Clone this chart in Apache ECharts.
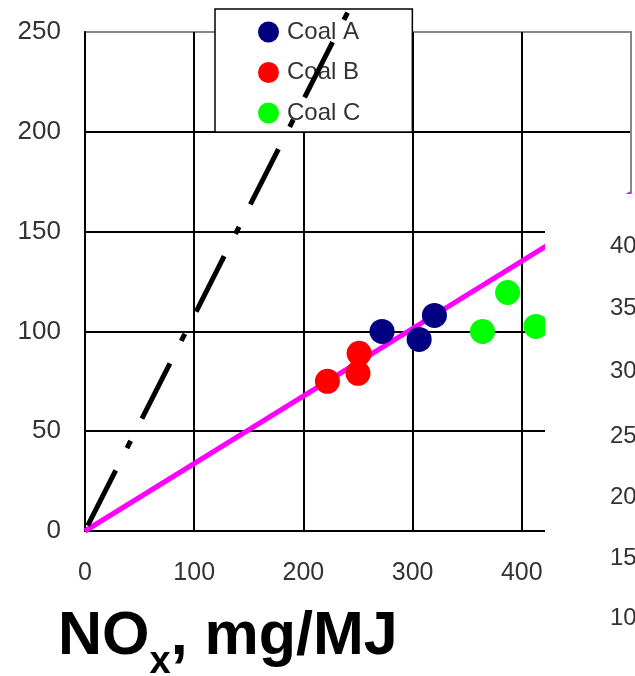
<!DOCTYPE html>
<html>
<head>
<meta charset="utf-8">
<script src="https://cdn.jsdelivr.net/npm/echarts@6/dist/echarts.min.js"></script>
<style>
html,body{margin:0;padding:0;background:#fff;}
#chart{width:635px;height:676px;}
</style>
</head>
<body>
<div id="chart"></div>
<script>
// ---- data ----
const seriesNames = ['Coal A', 'Coal B', 'Coal C'];
const seriesColors = ['#000080', '#ff0000', '#00ff00'];
const coalA = [[272, 100], [306, 96], [320, 108]];
const coalB = [[222, 75], [250, 79], [251, 89]];
const coalC = [[364, 100], [387, 119.5], [413, 102.5]];
const fitLine = [[0, 0], [500, 169]];
const refLine = [[0, 0], [262, 283]];
const xTicks = [0, 100, 200, 300, 400, 500];
const yTicks = [0, 50, 100, 150, 200, 250];
const overlayLabels = ['40', '35', '30', '25', '20', '15', '10'];
const overlayLabelY = [246, 308, 371, 436, 497, 558, 618];

const FONT = '"Liberation Sans", Arial, sans-serif';
const chart = echarts.init(document.getElementById('chart'));

const scatterData = [coalA, coalB, coalC];
const series = seriesNames.map((n, i) => ({
  name: n,
  type: 'scatter',
  data: scatterData[i],
  symbol: 'circle',
  symbolSize: 25,
  itemStyle: { color: seriesColors[i], opacity: 1 },
  z: 3
}));
series.push({
  type: 'line',
  data: fitLine,
  symbol: 'none',
  lineStyle: { color: '#ff00ff', width: 5 },
  z: 2,
  silent: true
});
series.push({
  type: 'line',
  data: refLine,
  symbol: 'none',
  clip: false,
  lineStyle: { color: '#000', width: 5, type: [62, 25, 8, 25], dashOffset: 114, cap: 'butt' },
  z: 6,
  silent: true
});

const graphics = [{
  type: 'rect',
  shape: { x: 545, y: 194, width: 90, height: 482 },
  style: { fill: '#fff' },
  z: 100
}];
overlayLabels.forEach((t, i) => {
  graphics.push({
    type: 'text',
    left: 610,
    top: overlayLabelY[i] - 12,
    z: 101,
    style: { text: t, font: '24px ' + FONT, fill: '#333' }
  });
});

chart.setOption({
  backgroundColor: '#fff',
  animation: false,
  title: {
    left: 53,
    top: 602,
    text: '{a|NO}{s|x}{a|, mg/MJ}',
    textStyle: {
      rich: {
        a: { fontFamily: FONT, fontWeight: 'bold', fontSize: 61, color: '#000', verticalAlign: 'top', lineHeight: 62 },
        s: { fontFamily: FONT, fontWeight: 'bold', fontSize: 38, color: '#000', verticalAlign: 'top', padding: [37, 0, 0, 0], lineHeight: 40 }
      }
    }
  },
  legend: {
    data: seriesNames,
    orient: 'vertical',
    left: 215,
    top: 9,
    padding: [11, 52, 7, 43],
    itemGap: 16.5,
    itemWidth: 21,
    itemHeight: 21,
    icon: 'circle',
    backgroundColor: '#fff',
    borderColor: '#000',
    borderWidth: 1.5,
    z: 4,
    textStyle: { fontFamily: FONT, fontSize: 24, color: '#333', padding: [0, 0, 0, 3] }
  },
  grid: {
    left: 85, right: 4, top: 32, bottom: 145,
    containLabel: false,
    outerBoundsMode: 'none',
    show: true, borderColor: '#888', borderWidth: 2, backgroundColor: 'transparent'
  },
  xAxis: {
    type: 'value',
    min: xTicks[0], max: xTicks[xTicks.length - 1], interval: 100,
    axisLine: { show: true, lineStyle: { color: '#000', width: 2 } },
    axisTick: { show: false },
    splitLine: { show: true, lineStyle: { color: ['#000', '#000', '#000', '#000', '#000', '#888'], width: 2 } },
    axisLabel: { margin: 30, fontFamily: FONT, fontSize: 25, color: '#333' }
  },
  yAxis: {
    type: 'value',
    min: yTicks[0], max: yTicks[yTicks.length - 1], interval: 50,
    axisLine: { show: true, lineStyle: { color: '#000', width: 2 } },
    axisTick: { show: false },
    splitLine: { show: true, lineStyle: { color: ['#000', '#000', '#000', '#000', '#000', '#888'], width: 2 } },
    axisLabel: { margin: 24, fontFamily: FONT, fontSize: 26, color: '#333' }
  },
  series: series,
  graphic: graphics
});
</script>
</body>
</html>
